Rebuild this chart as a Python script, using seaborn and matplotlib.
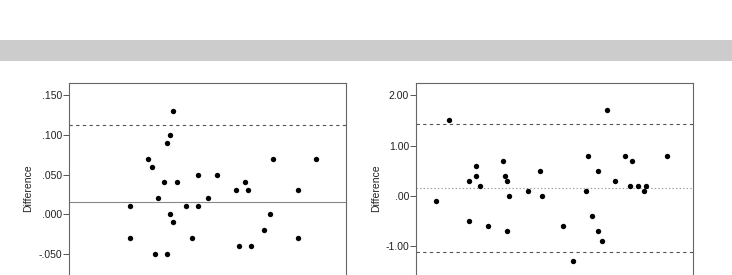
import matplotlib
matplotlib.use("Agg")
import matplotlib.pyplot as plt
import seaborn as sns
import pandas as pd

# Left panel data (x = arbitrary mean scale, y = difference)
left_x = [2.20, 2.20, 2.86, 2.98, 3.09, 3.21, 3.43, 3.55, 3.55, 3.65, 3.65, 3.76, 3.76, 3.89,
          4.22, 4.44, 4.67, 4.67, 5.01, 5.34, 6.02, 6.13, 6.36, 6.47, 6.57, 7.03, 7.25, 7.37,
          8.26, 8.26, 8.94]
left_y = [0.01, -0.03, 0.07, 0.06, -0.05, 0.02, 0.04, 0.09, -0.05, 0.10, 0.00, -0.01, 0.13, 0.04,
          0.01, -0.03, 0.05, 0.01, 0.02, 0.05, 0.03, -0.04, 0.04, 0.03, -0.04, -0.02, 0.00, 0.07,
          0.03, -0.03, 0.07]
left_mean = 0.0156
left_upper = 0.1127
left_lower = -0.0815
left_ticks = [-0.05, 0.0, 0.05, 0.10, 0.15]
left_ticklabels = ["-.050", ".000", ".050", ".100", ".150"]

# Right panel data
right_x = [0.73, 1.19, 1.92, 1.92, 2.15, 2.15, 2.31, 2.61, 3.13, 3.21, 3.28, 3.28, 3.35, 4.04,
           4.47, 4.54, 5.30, 5.67, 6.12, 6.20, 6.35, 6.57, 6.57, 6.72, 6.88, 7.17, 7.55, 7.71,
           7.78, 7.99, 8.22, 8.29, 9.05]
right_y = [-0.1, 1.5, 0.3, -0.5, 0.6, 0.4, 0.2, -0.6, 0.7, 0.4, 0.3, -0.7, 0.0, 0.1,
           0.5, 0.0, -0.6, -1.3, 0.1, 0.8, -0.4, 0.5, -0.7, -0.9, 1.7, 0.3, 0.8, 0.2,
           0.7, 0.2, 0.1, 0.2, 0.8]
right_mean = 0.16
right_upper = 1.43
right_lower = -1.115
right_ticks = [-1.0, 0.0, 1.0, 2.0]
right_ticklabels = ["-1.00", ".00", "1.00", "2.00"]

sns.set_style("white")
plt.rcParams["font.family"] = ["Liberation Sans", "DejaVu Sans"]

W, H = 732, 275
fig = plt.figure(figsize=(W / 100, H / 100), dpi=100)

# gray band
band = fig.add_axes([0, (H - 61) / H, 1, 21 / H])
band.set_facecolor("#cccccc")
band.set_xticks([]); band.set_yticks([])
for s in band.spines.values():
    s.set_visible(False)

def px_axes(left, right, top=83, bottom=293):
    return fig.add_axes([left / W, (H - bottom) / H, (right - left) / W, (bottom - top) / H])

ax1 = px_axes(69.3, 345.7)
ax2 = px_axes(416, 693.3)

dash = (0, (3, 3))
dot = (0, (1.2, 2))

def panel(ax, x, y, mean, upper, lower, ylim, ticks, labels, mean_style, mean_color, lpad):
    df = pd.DataFrame({"x": x, "y": y})
    sns.scatterplot(data=df, x="x", y="y", ax=ax, color="black", s=15, linewidth=0, zorder=3)
    ax.axhline(upper, color="#555555", lw=0.8, ls=dash)
    ax.axhline(lower, color="#555555", lw=0.8, ls=dash)
    ax.axhline(mean, color=mean_color, lw=0.8, ls=mean_style)
    ax.set_xlim(0, 10)
    ax.set_ylim(*ylim)
    ax.set_yticks(ticks)
    ax.set_yticklabels(labels, fontsize=7.5, color="#222222")
    ax.set_xticks([])
    ax.set_xlabel("")
    ax.set_ylabel("Difference", fontsize=7.5, color="#222222", labelpad=lpad)
    ax.tick_params(axis="y", direction="out", length=4, width=0.7, color="#555555", pad=1, left=True)
    for s in ax.spines.values():
        s.set_color("#666666")
        s.set_linewidth(0.8)

panel(ax1, left_x, left_y, left_mean, left_upper, left_lower,
      (-0.0999, 0.1658), left_ticks, left_ticklabels, "-", "#888888", 4)
panel(ax2, right_x, right_y, right_mean, right_upper, right_lower,
      (-1.938, 2.245), right_ticks, right_ticklabels, dot, "#999999", 3)

fig.savefig("out.png", dpi=100)
